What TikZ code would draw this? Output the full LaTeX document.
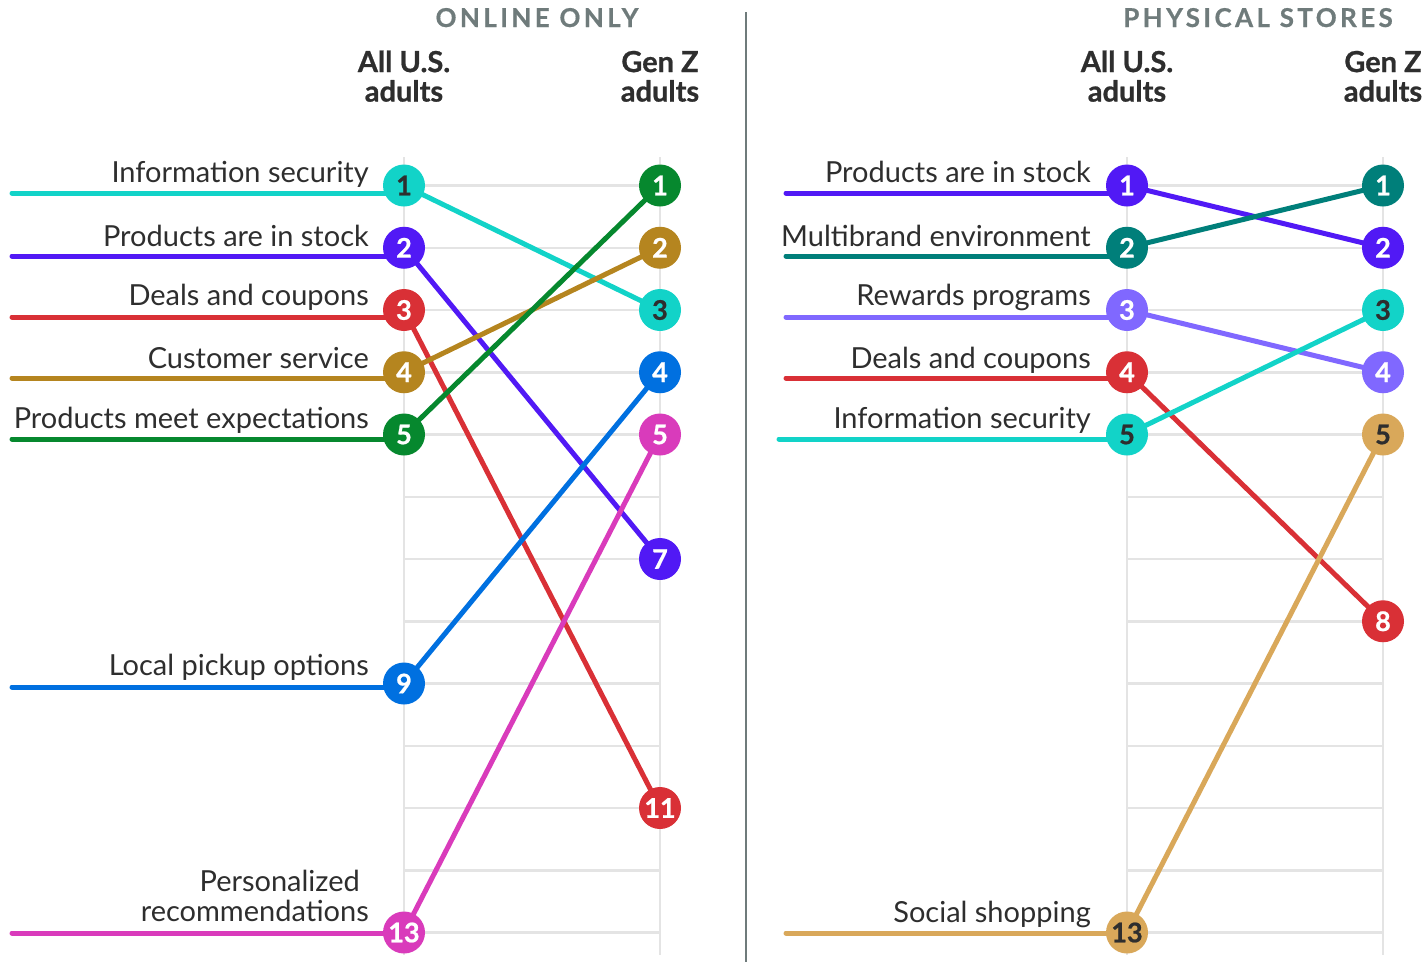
\documentclass[tikz,border=0pt]{standalone}
\usepackage{fontspec}
\setmainfont{Lato}
\newfontfamily\spacedfont[LetterSpace=13,FakeBold=0.6]{Lato Bold}
\newfontfamily\heavyfont[FakeBold=0.8]{Lato Bold}
\usetikzlibrary{positioning}
\pgfdeclarelayer{background}
\pgfsetlayers{background,main}
\definecolor{infocyan}{HTML}{12D3C8}
\definecolor{stockindigo}{HTML}{5119F5}
\definecolor{dealred}{HTML}{D93036}
\definecolor{servgold}{HTML}{B5851F}
\definecolor{expgreen}{HTML}{06882E}
\definecolor{pickblue}{HTML}{0070E0}
\definecolor{persmagenta}{HTML}{D93BBB}
\definecolor{brandteal}{HTML}{007F7A}
\definecolor{rewlavender}{HTML}{8068FF}
\definecolor{socgold}{HTML}{D9A85A}
\definecolor{gridgray}{HTML}{E4E4E4}
\definecolor{titlegray}{HTML}{6F7B7B}
\definecolor{textdark}{HTML}{2E2E2E}
\tikzset{
	rank/.style={
		circle,
		minimum size=42pt,
		inner sep=0pt,
		text=white,
		font=\heavyfont\fontsize{27}{27}\selectfont},
	darkrank/.style={rank, text=textdark},
	itemlabel/.style={
		anchor=base east,
		inner sep=0pt,
		align=right,
		text=textdark,
		font=\fontsize{29}{30}\selectfont},
	colhead/.style={
		anchor=south,
		inner sep=0pt,
		align=center,
		text=textdark,
		font=\heavyfont\fontsize{29}{29.5}\selectfont},
	paneltitle/.style={
		anchor=base,
		inner sep=0pt,
		text=titlegray,
		font=\spacedfont\fontsize{26}{26}\selectfont},
	gridline/.style={draw=gridgray, line width=2.5pt},
	sepline/.style={draw=titlegray, line width=2.5pt},
	trend/.style={line width=5pt},
	lead/.style={line width=5pt, line cap=round},
}

\begin{document}
\begin{tikzpicture}[x=1pt, y=-1pt]
	\useasboundingbox (0,0) rectangle (1428,962);
	% headers
	\node[paneltitle] (onTitle) at (537,27) {ONLINE ONLY};
	\node[paneltitle] (psTitle) at (1258,27) {PHYSICAL STORES};
	\node[colhead] (onAllHead) at (404,102) {All U.S.\\adults};
	\node[colhead] (onGenHead) at (660,102) {Gen Z\\adults};
	\node[colhead] (psAllHead) at (1127,102) {All U.S.\\adults};
	\node[colhead] (psGenHead) at (1383,102) {Gen Z\\adults};
	\draw[sepline] (746,12) -- (746,962);
	
	% online only
	\node[darkrank, fill=infocyan] (onA1) at (404,185.5) {1};
	\node[rank, fill=stockindigo] (onA2) at (404,247.75) {2};
	\node[rank, fill=dealred] (onA3) at (404,310) {3};
	\node[rank, fill=servgold] (onA4) at (404,372.25) {4};
	\node[rank, fill=expgreen] (onA5) at (404,434.5) {5};
	\node[rank, fill=pickblue] (onA9) at (404,683.5) {9};
	\node[rank, fill=persmagenta] (onA13) at (404,932.5) {13};
	\node[rank, fill=expgreen] (onG1) at (660,185.5) {1};
	\node[rank, fill=servgold] (onG2) at (660,247.75) {2};
	\node[darkrank, fill=infocyan] (onG3) at (660,310) {3};
	\node[rank, fill=pickblue] (onG4) at (660,372.25) {4};
	\node[rank, fill=persmagenta] (onG5) at (660,434.5) {5};
	\node[rank, fill=stockindigo] (onG7) at (660,559) {7};
	\node[rank, fill=dealred] (onG11) at (660,808) {11};
	
	\node[itemlabel] (onL1) at (369,182) {Information security};
	\node[itemlabel] (onL2) at (369,246) {Products are in stock};
	\node[itemlabel] (onL3) at (369,305) {Deals and coupons};
	\node[itemlabel] (onL4) at (369,368) {Customer service};
	\node[itemlabel] (onL5) at (369,428) {Products meet expectations};
	\node[itemlabel] (onL9) at (369,675) {Local pickup options};
	\node[itemlabel, anchor=south east] (onL13) at (369,922) {Personalized\hspace*{9pt}\\recommendations};
	
	\coordinate (onS1) at (12,193);
	\coordinate (onS2) at (12,256);
	\coordinate (onS3) at (12,317);
	\coordinate (onS4) at (12,378);
	\coordinate (onS5) at (12,439);
	\coordinate (onS9) at (12,687);
	\coordinate (onS13) at (12,933);
	
	% physical stores
	\node[rank, fill=stockindigo] (psA1) at (1127,185.5) {1};
	\node[rank, fill=brandteal] (psA2) at (1127,247.75) {2};
	\node[rank, fill=rewlavender] (psA3) at (1127,310) {3};
	\node[rank, fill=dealred] (psA4) at (1127,372.25) {4};
	\node[darkrank, fill=infocyan] (psA5) at (1127,434.5) {5};
	\node[darkrank, fill=socgold] (psA13) at (1127,932.5) {13};
	\node[rank, fill=brandteal] (psG1) at (1383,185.5) {1};
	\node[rank, fill=stockindigo] (psG2) at (1383,247.75) {2};
	\node[darkrank, fill=infocyan] (psG3) at (1383,310) {3};
	\node[rank, fill=rewlavender] (psG4) at (1383,372.25) {4};
	\node[darkrank, fill=socgold] (psG5) at (1383,434.5) {5};
	\node[rank, fill=dealred] (psG8) at (1383,621.25) {8};
	
	\node[itemlabel] (psL1) at (1091,182) {Products are in stock};
	\node[itemlabel] (psL2) at (1091,246) {Multibrand environment};
	\node[itemlabel] (psL3) at (1091,305) {Rewards programs};
	\node[itemlabel] (psL4) at (1091,368) {Deals and coupons};
	\node[itemlabel] (psL5) at (1091,428) {Information security};
	\node[itemlabel] (psL13) at (1091,922) {Social shopping};
	
	\coordinate (psS1) at (786,193);
	\coordinate (psS2) at (786,256);
	\coordinate (psS3) at (786,317);
	\coordinate (psS4) at (786,378);
	\coordinate (psS5) at (779,439);
	\coordinate (psS13) at (786,933);
	
	\begin{pgfonlayer}{background}
		% grid
		\draw[gridline] (404,157) -- (404,955) (660,157) -- (660,955)
			(1127,157) -- (1127,955) (1383,157) -- (1383,955);
		\draw[gridline] (404,185.5) -- (660,185.5) (404,247.75) -- (660,247.75)
			(404,310) -- (660,310) (404,372.25) -- (660,372.25)
			(404,434.5) -- (660,434.5) (404,496.75) -- (660,496.75)
			(404,559) -- (660,559) (404,621.25) -- (660,621.25)
			(404,683.5) -- (660,683.5) (404,745.75) -- (660,745.75)
			(404,808) -- (660,808) (404,870.25) -- (660,870.25)
			(404,932.5) -- (660,932.5);
		\draw[gridline] (1127,185.5) -- (1383,185.5) (1127,247.75) -- (1383,247.75)
			(1127,310) -- (1383,310) (1127,372.25) -- (1383,372.25)
			(1127,434.5) -- (1383,434.5) (1127,496.75) -- (1383,496.75)
			(1127,559) -- (1383,559) (1127,621.25) -- (1383,621.25)
			(1127,683.5) -- (1383,683.5) (1127,745.75) -- (1383,745.75)
			(1127,808) -- (1383,808) (1127,870.25) -- (1383,870.25)
			(1127,932.5) -- (1383,932.5);
		
		% online only
		\draw[lead, infocyan] (onS1) -- (onS1 -| onA1.center);
		\draw[lead, stockindigo] (onS2) -- (onS2 -| onA2.center);
		\draw[lead, dealred] (onS3) -- (onS3 -| onA3.center);
		\draw[lead, servgold] (onS4) -- (onS4 -| onA4.center);
		\draw[lead, expgreen] (onS5) -- (onS5 -| onA5.center);
		\draw[lead, pickblue] (onS9) -- (onS9 -| onA9.center);
		\draw[lead, persmagenta] (onS13) -- (onS13 -| onA13.center);
		\draw[trend, infocyan] (onA1.center) -- (onG3.center);
		\draw[trend, stockindigo] (onA2.center) -- (onG7.center);
		\draw[trend, dealred] (onA3.center) -- (onG11.center);
		\draw[trend, servgold] (onA4.center) -- (onG2.center);
		\draw[trend, expgreen] (onA5.center) -- (onG1.center);
		\draw[trend, pickblue] (onA9.center) -- (onG4.center);
		\draw[trend, persmagenta] (onA13.center) -- (onG5.center);
		
		% physical stores
		\draw[lead, stockindigo] (psS1) -- (psS1 -| psA1.center);
		\draw[lead, brandteal] (psS2) -- (psS2 -| psA2.center);
		\draw[lead, rewlavender] (psS3) -- (psS3 -| psA3.center);
		\draw[lead, dealred] (psS4) -- (psS4 -| psA4.center);
		\draw[lead, infocyan] (psS5) -- (psS5 -| psA5.center);
		\draw[lead, socgold] (psS13) -- (psS13 -| psA13.center);
		\draw[trend, stockindigo] (psA1.center) -- (psG2.center);
		\draw[trend, brandteal] (psA2.center) -- (psG1.center);
		\draw[trend, rewlavender] (psA3.center) -- (psG4.center);
		\draw[trend, dealred] (psA4.center) -- (psG8.center);
		\draw[trend, infocyan] (psA5.center) -- (psG3.center);
		\draw[trend, socgold] (psA13.center) -- (psG5.center);
	\end{pgfonlayer}
\end{tikzpicture}
\end{document}
